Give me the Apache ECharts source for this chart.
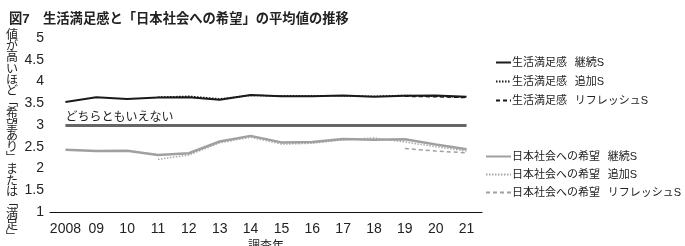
<!DOCTYPE html>
<html><head><meta charset="utf-8">
<script src="https://cdn.jsdelivr.net/npm/echarts@6/dist/echarts.min.js"></script>
<style>html,body{margin:0;padding:0;background:#fff}#c{width:685px;height:246px}</style>
</head><body><div id="c"></div>
<script>
const years = ['2008','09','10','11','12','13','14','15','16','17','18','19','20','21'];
const yTicks = [1, 5, 0.5];
const satContinue = [3.53,3.64,3.6,3.63,3.64,3.58,3.69,3.66,3.66,3.68,3.65,3.67,3.68,3.65];
const satAdded = [null,null,null,3.64,3.66,3.6,3.68,3.67,3.67,3.67,3.66,3.68,3.66,3.64];
const satRefresh = [null,null,null,null,null,null,null,null,null,null,null,3.66,3.65,3.63];
const hopeContinue = [2.43,2.4,2.41,2.31,2.35,2.62,2.75,2.6,2.61,2.68,2.66,2.67,2.55,2.44];
const hopeAdded = [null,null,null,2.21,2.31,2.59,2.72,2.56,2.58,2.66,2.7,2.61,2.5,2.4];
const hopeRefresh = [null,null,null,null,null,null,null,null,null,null,null,2.46,2.4,2.36];
const neutralValue = 3;
const neutralLabel = 'どちらともいえない';
const names = ['生活満足感\u2002\u2009継続S','生活満足感\u2002\u2009追加S','生活満足感\u2002\u2009リフレッシュS','日本社会への希望\u2002\u2009継続S','日本社会への希望\u2002\u2009追加S','日本社会への希望\u2002\u2009リフレッシュS'];
const yName = '値が高いほど﹁希望あり﹂または﹁満足﹂';
const FF = '"Liberation Sans", "Noto Sans CJK JP", sans-serif';

const chart = echarts.init(document.getElementById('c'));
function ln(name, data, color, width, type, z){
  return {name, type:'line', data, symbol:'none', showSymbol:false, z: z||2, connectNulls:false,
    lineStyle:{color, width, type}, itemStyle:{color}};
}
const legText = {fontSize:11, color:'#222', fontFamily:FF, padding:[0,0,0,-4]};
chart.setOption({
  animation:false,
  textStyle:{fontFamily:FF},
  title:[
    {text:'図7　生活満足感と「日本社会への希望」の平均値の推移', left:4, top:8,
     textStyle:{fontSize:13.3, fontWeight:'bold', color:'#222', fontFamily:FF}},
    {text:yName.split('').join('\n'), left:6, top:30, padding:0,
     textStyle:{fontSize:12, fontWeight:'normal', color:'#222', lineHeight:11.2, fontFamily:FF}}
  ],
  grid:{left:50, right:203, top:38, bottom:34, outerBoundsMode:'none', containLabel:false},
  legend:[
    {data:names.slice(0,3), orient:'vertical', left:495, top:57, padding:0, itemWidth:15, itemHeight:11, itemGap:8,
     itemStyle:{opacity:0}, textStyle:legText},
    {data:names.slice(3), orient:'vertical', left:485, top:151, padding:0, itemWidth:25, itemHeight:11, itemGap:7,
     itemStyle:{opacity:0}, textStyle:legText}
  ],
  xAxis:{type:'category', data:years, boundaryGap:true,
    axisLine:{lineStyle:{color:'#111', width:1}}, axisTick:{show:false},
    axisLabel:{fontSize:14, color:'#222', margin:10, interval:0, fontFamily:FF},
    name:'調査年', nameLocation:'middle', nameGap:25,
    nameTextStyle:{fontSize:12, color:'#222', fontFamily:FF}},
  yAxis:{type:'value', min:yTicks[0], max:yTicks[1], interval:yTicks[2],
    axisLine:{show:false}, axisTick:{show:false}, splitLine:{show:false},
    axisLabel:{fontSize:14, color:'#222', margin:6, fontFamily:FF}},
  series:[
    ln(names[0], satContinue, '#1a1a1a', 2, 'solid', 5),
    ln(names[1], satAdded, '#1a1a1a', 1.5, [1.5,1.5], 4),
    ln(names[2], satRefresh, '#1a1a1a', 1.5, [4,3], 4),
    Object.assign(ln(names[3], hopeContinue, '#a0a0a0', 2.5, 'solid', 3), {
      markLine:{silent:true, symbol:'none',
        lineStyle:{color:'#666', width:3, type:'solid'},
        label:{show:true, position:'insideStartTop', formatter:neutralLabel, fontSize:12, color:'#222', distance:[0,1], fontFamily:FF},
        data:[[{coord:[years[0], neutralValue]},{coord:[years[years.length-1], neutralValue]}]]}
    }),
    ln(names[4], hopeAdded, '#a8a8a8', 1.5, [1.5,1.5], 2),
    ln(names[5], hopeRefresh, '#a0a0a0', 1.5, [4,3], 2)
  ]
});
</script></body></html>
